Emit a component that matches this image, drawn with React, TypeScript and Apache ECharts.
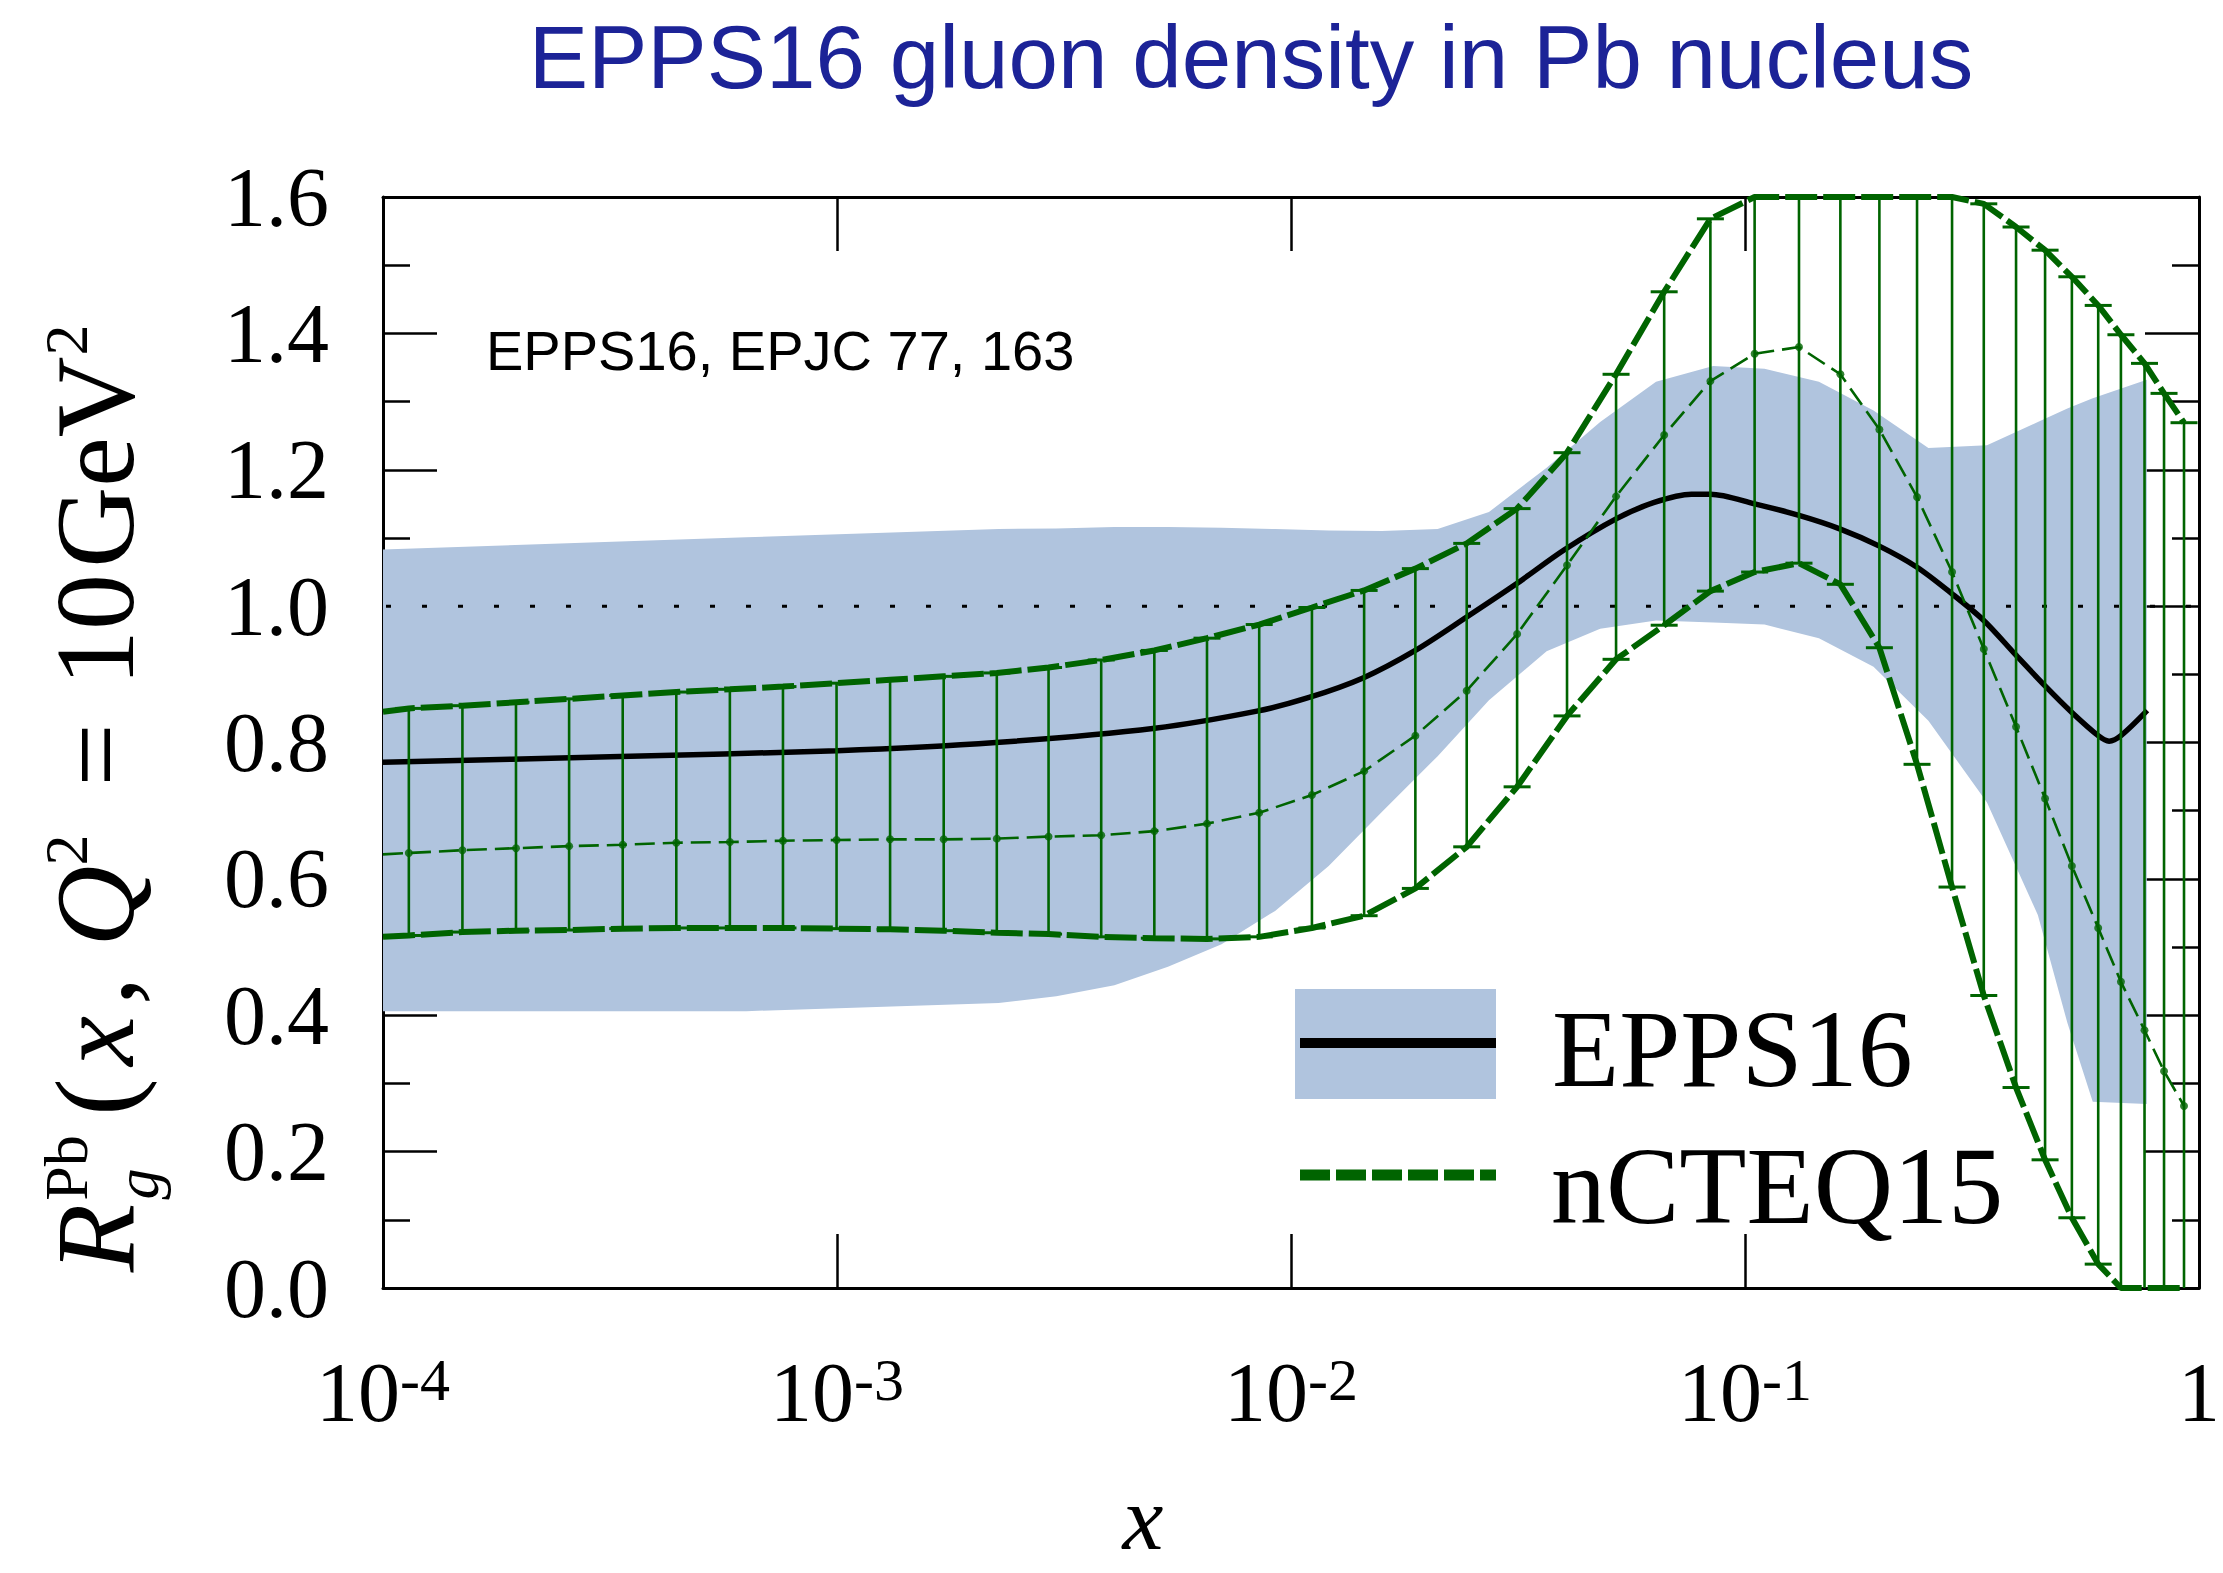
import React, { useEffect, useRef } from 'react';
import * as echarts from 'echarts';

const W = 2223;
const H = 1573;
const GREEN = '#006400';
const BAND = '#b0c4de';
const SERIF = 'Liberation Serif, Times New Roman, serif';
const SANS = 'Liberation Sans, Arial, Helvetica, sans-serif';

// Axis ranges / ticks
const X_MIN = 1e-4;
const X_MAX = 1;
const Y_MIN = 0;
const Y_MAX = 1.6;
const Y_STEP = 0.2;

// EPPS16 uncertainty band
const bandX = [1e-4, 6.31e-4, 2.27e-3, 3.041e-3, 4.083e-3, 5.358e-3, 7.031e-3, 9.226e-3, 1.2106e-2, 1.585e-2, 2.104e-2, 2.729e-2, 3.656e-2, 4.797e-2, 6.368e-2, 8.511e-2, 0.1104, 0.1455, 0.1919, 0.2535, 0.3412, 0.4416, 0.5129, 0.5834, 0.7674];
const bandHigh = [1.083, 1.101, 1.113, 1.114, 1.116, 1.116, 1.115, 1.113, 1.111, 1.110, 1.113, 1.138, 1.203, 1.270, 1.329, 1.352, 1.348, 1.329, 1.287, 1.232, 1.236, 1.270, 1.290, 1.305, 1.332];
const bandLow = [0.406, 0.406, 0.418, 0.428, 0.444, 0.471, 0.504, 0.553, 0.619, 0.698, 0.780, 0.862, 0.934, 0.967, 0.979, 0.976, 0.973, 0.953, 0.911, 0.832, 0.712, 0.547, 0.389, 0.273, 0.270];

// EPPS16 central value
const eppsX = [1e-4, 3.162e-4, 1e-3, 2.239e-3, 5.012e-3, 8.414e-3, 1.096e-2, 1.445e-2, 1.879e-2, 2.438e-2, 3.126e-2, 4.009e-2, 5.2e-2, 6.31e-2, 7.621e-2, 8.395e-2, 0.105, 0.1315, 0.1622, 0.1977, 0.2393, 0.2858, 0.3357, 0.3954, 0.4581, 0.5248, 0.5998, 0.6339, 0.673, 0.7691];
const eppsY = [0.771, 0.779, 0.788, 0.800, 0.821, 0.846, 0.866, 0.895, 0.935, 0.984, 1.032, 1.083, 1.128, 1.152, 1.164, 1.164, 1.150, 1.133, 1.113, 1.088, 1.057, 1.018, 0.979, 0.928, 0.883, 0.844, 0.810, 0.802, 0.810, 0.847];

// nCTEQ15 grid points
const nctX = [1.14e-4, 1.496e-4, 1.963e-4, 2.57e-4, 3.373e-4, 4.426e-4, 5.808e-4, 7.603e-4, 9.977e-4, 1.309e-3, 1.718e-3, 2.249e-3, 2.924e-3, 3.819e-3, 5.0e-3, 6.531e-3, 8.511e-3, 1.112e-2, 1.449e-2, 1.879e-2, 2.438e-2, 3.148e-2, 4.055e-2, 5.2e-2, 6.637e-2, 0.0839, 0.105, 0.1315, 0.1622, 0.1977, 0.2393, 0.2858, 0.3357, 0.3954, 0.4581, 0.5248, 0.5998, 0.673, 0.7586, 0.8375, 0.9268];
const nctCentral = [0.638, 0.642, 0.645, 0.648, 0.650, 0.653, 0.654, 0.656, 0.657, 0.658, 0.658, 0.659, 0.662, 0.664, 0.670, 0.681, 0.697, 0.723, 0.758, 0.810, 0.876, 0.959, 1.060, 1.161, 1.251, 1.330, 1.370, 1.380, 1.340, 1.259, 1.160, 1.050, 0.937, 0.823, 0.718, 0.619, 0.528, 0.449, 0.378, 0.318, 0.267];
const nctUpper = [0.850, 0.854, 0.859, 0.864, 0.869, 0.874, 0.878, 0.882, 0.887, 0.892, 0.897, 0.902, 0.910, 0.921, 0.935, 0.953, 0.973, 0.998, 1.023, 1.055, 1.092, 1.143, 1.225, 1.340, 1.461, 1.568, 1.61, 1.66, 1.69, 1.70, 1.68, 1.635, 1.590, 1.556, 1.522, 1.483, 1.441, 1.398, 1.356, 1.312, 1.269];
const nctLower = [0.517, 0.522, 0.524, 0.525, 0.527, 0.528, 0.528, 0.528, 0.527, 0.526, 0.524, 0.521, 0.519, 0.515, 0.513, 0.512, 0.515, 0.528, 0.546, 0.586, 0.647, 0.735, 0.839, 0.922, 0.972, 1.022, 1.050, 1.063, 1.032, 0.939, 0.768, 0.588, 0.429, 0.294, 0.188, 0.103, 0.035, -0.03, -0.09, -0.14, -0.19];
// nCTEQ15 curves where they meet the left frame (x = 1e-4)
const nctEdgeX = 1e-4;
const nctEdgeCentral = 0.636;
const nctEdgeUpper = 0.845;
const nctEdgeLower = 0.515;

const clampY = (v: number) => Math.max(Y_MIN, Math.min(Y_MAX, v));

function buildOption(): any {
  const xLabelRich = {
    b: { fontSize: 84, fontFamily: SERIF, color: '#000', lineHeight: 84, padding: [48, 0, 0, 0], verticalAlign: 'bottom' },
    s: { fontSize: 60, fontFamily: SERIF, color: '#000', lineHeight: 60, verticalAlign: 'top' },
  };
  const xFormatter = (v: number) => {
    const e = Math.round(Math.log10(v));
    return e === 0 ? '{b|1}' : `{b|10}{s|${e}}`;
  };
  const axisLineStyle = { color: '#000', width: 3 };
  const tickStyle = { color: '#000', width: 2.5 };

  const xBase = {
    type: 'log',
    logBase: 10,
    min: X_MIN,
    max: X_MAX,
    splitNumber: 4,
    axisLine: { show: true, onZero: false, lineStyle: axisLineStyle },
    axisTick: { show: true, inside: true, length: 54, lineStyle: tickStyle },
    minorTick: { show: false },
    splitLine: { show: false },
    minorSplitLine: { show: false },
  };
  const yBase = {
    type: 'value',
    min: Y_MIN,
    max: Y_MAX,
    interval: Y_STEP,
    axisLine: { show: true, onZero: false, lineStyle: axisLineStyle },
    axisTick: { show: true, inside: true, length: 54, lineStyle: tickStyle },
    minorTick: { show: true, splitNumber: 2, length: 27, lineStyle: tickStyle },
    splitLine: { show: false },
    minorSplitLine: { show: false },
  };

  const bandData = bandX.map((x, i) => [x, bandLow[i], bandHigh[i]]);
  const errData = nctX.map((x, i) => [x, nctLower[i], nctUpper[i]]);

  const mk = (edge: number, arr: number[]) => [[nctEdgeX, clampY(edge)], ...nctX.map((x, i) => [x, clampY(arr[i])])];

  // y-axis title pieces: [text, centerX, centerY, fontSize, italic]
  const yTitle: [string, number, number, number, boolean][] = [
    ['R', 95, 1238, 112, true],
    ['Pb', 66, 1168, 62, false],
    ['g', 137, 1184, 62, true],
    ['(', 95, 1097, 112, false],
    ['x', 95, 1041, 112, true],
    [',', 95, 991, 112, false],
    ['Q', 95, 906, 112, true],
    ['2', 66, 850, 62, false],
    ['=', 95, 755, 112, false],
    ['10', 95, 630, 112, false],
    ['GeV', 95, 462, 112, false],
    ['2', 66, 340, 62, false],
  ];

  return {
    animation: false,
    backgroundColor: '#fff',
    grid: { left: 383, top: 197, right: 21, bottom: 285, containLabel: false },
    xAxis: [
      {
        ...xBase,
        position: 'bottom',
        axisLabel: {
          show: true,
          margin: 62,
          formatter: xFormatter,
          rich: xLabelRich,
          showMinLabel: true,
          showMaxLabel: true,
        },
      },
      { ...xBase, position: 'top', axisLabel: { show: false } },
    ],
    yAxis: [
      {
        ...yBase,
        position: 'left',
        axisLabel: {
          show: true,
          margin: 54,
          fontSize: 84,
          fontFamily: SERIF,
          color: '#000',
          formatter: (v: number) => v.toFixed(1),
        },
      },
      { ...yBase, position: 'right', axisLabel: { show: false } },
    ],
    series: [
      {
        type: 'custom',
        name: 'EPPS16 band',
        z: 1,
        silent: true,
        data: bandData,
        encode: { x: 0, y: 1 },
        renderItem: (params: any, api: any) => {
          if (params.dataIndex !== 0) return { type: 'group', children: [] };
          const pts: number[][] = [];
          for (let i = 0; i < bandX.length; i++) pts.push(api.coord([bandX[i], bandHigh[i]]));
          for (let i = bandX.length - 1; i >= 0; i--) pts.push(api.coord([bandX[i], bandLow[i]]));
          return { type: 'polygon', shape: { points: pts }, style: { fill: BAND, stroke: 'none' } };
        },
      },
      {
        type: 'line',
        name: 'unity',
        z: 2,
        silent: true,
        symbol: 'none',
        data: [[X_MIN, 1], [X_MAX, 1]],
        lineStyle: { color: '#000', width: 3, type: [5, 31], dashOffset: -3 },
      },
      {
        type: 'line',
        name: 'EPPS16',
        z: 3,
        silent: true,
        symbol: 'none',
        smooth: 0.3,
        data: eppsX.map((x, i) => [x, eppsY[i]]),
        lineStyle: { color: '#000', width: 5.5 },
      },
      {
        type: 'custom',
        name: 'nCTEQ15 errors',
        z: 4,
        silent: true,
        data: errData,
        encode: { x: 0, y: 1 },
        renderItem: (params: any, api: any) => {
          const x = api.value(0);
          const lo = api.value(1);
          const hi = api.value(2);
          const p1 = api.coord([x, clampY(lo)]);
          const p2 = api.coord([x, clampY(hi)]);
          const children: any[] = [
            { type: 'line', shape: { x1: p1[0], y1: p1[1], x2: p2[0], y2: p2[1] }, style: { stroke: GREEN, lineWidth: 2.6 } },
          ];
          const cap = 13.5;
          if (lo >= Y_MIN) children.push({ type: 'line', shape: { x1: p1[0] - cap, y1: p1[1], x2: p1[0] + cap, y2: p1[1] }, style: { stroke: GREEN, lineWidth: 3 } });
          if (hi <= Y_MAX) children.push({ type: 'line', shape: { x1: p2[0] - cap, y1: p2[1], x2: p2[0] + cap, y2: p2[1] }, style: { stroke: GREEN, lineWidth: 3 } });
          return { type: 'group', children };
        },
      },
      {
        type: 'line',
        name: 'nCTEQ15 central',
        z: 5,
        silent: true,
        symbol: 'none',
        data: mk(nctEdgeCentral, nctCentral),
        lineStyle: { color: GREEN, width: 2.6, type: [20, 8] },
      },
      {
        type: 'scatter',
        name: 'nCTEQ15 points',
        z: 6,
        silent: true,
        symbol: 'circle',
        symbolSize: 8,
        itemStyle: { color: GREEN },
        data: nctX.map((x, i) => [x, nctCentral[i]]),
      },
      {
        type: 'line',
        name: 'nCTEQ15 upper',
        z: 5,
        silent: true,
        symbol: 'none',
        data: mk(nctEdgeUpper, nctUpper),
        lineStyle: { color: GREEN, width: 6, type: [32, 6] },
      },
      {
        type: 'line',
        name: 'nCTEQ15 lower',
        z: 5,
        silent: true,
        symbol: 'none',
        data: mk(nctEdgeLower, nctLower),
        lineStyle: { color: GREEN, width: 6, type: [32, 6] },
      },
    ],
    graphic: [
      {
        type: 'text',
        x: 1251,
        y: 57,
        z: 10,
        style: { text: 'EPPS16 gluon density in Pb nucleus', fontSize: 89, fontFamily: SANS, fill: '#1c2397', align: 'center', verticalAlign: 'middle', textAlign: 'center', textVerticalAlign: 'middle' },
      },
      {
        type: 'text',
        x: 486,
        y: 350,
        z: 10,
        style: { text: 'EPPS16, EPJC 77, 163', fontSize: 56, fontFamily: SANS, fill: '#000', align: 'left', verticalAlign: 'middle', textAlign: 'left', textVerticalAlign: 'middle' },
      },
      {
        type: 'text',
        x: 1143,
        y: 1518,
        z: 10,
        style: { text: 'x', fontSize: 92, fontStyle: 'italic', fontFamily: SERIF, fill: '#000', align: 'center', verticalAlign: 'middle', textAlign: 'center', textVerticalAlign: 'middle' },
      },
      {
        type: 'group',
        x: 0,
        y: 0,
        rotation: Math.PI / 2,
        z: 10,
        children: yTitle.map(([t, cx, cy, fs, it]) => ({
          type: 'text',
          x: -cy,
          y: cx,
          style: { text: t, fontSize: fs, fontStyle: it ? 'italic' : 'normal', fontFamily: SERIF, fill: '#000', align: 'center', verticalAlign: 'middle', textAlign: 'center', textVerticalAlign: 'middle' },
        })),
      },
      // legend
      { type: 'rect', z: 10, shape: { x: 1295, y: 989, width: 201, height: 110 }, style: { fill: BAND } },
      { type: 'line', z: 11, shape: { x1: 1300, y1: 1043, x2: 1496, y2: 1043 }, style: { stroke: '#000', lineWidth: 10 } },
      { type: 'line', z: 11, shape: { x1: 1300, y1: 1175, x2: 1496, y2: 1175 }, style: { stroke: GREEN, lineWidth: 11, lineDash: [30, 6] } },
      {
        type: 'text', x: 1552, y: 1049, z: 11,
        style: { text: 'EPPS16', fontSize: 110, fontFamily: SERIF, fill: '#000', align: 'left', verticalAlign: 'middle', textAlign: 'left', textVerticalAlign: 'middle' },
      },
      {
        type: 'text', x: 1551, y: 1186, z: 11,
        style: { text: 'nCTEQ15', fontSize: 110, fontFamily: SERIF, fill: '#000', align: 'left', verticalAlign: 'middle', textAlign: 'left', textVerticalAlign: 'middle' },
      },
    ],
  };
}

export default function App() {
  const ref = useRef<HTMLDivElement>(null);
  useEffect(() => {
    if (!ref.current) return;
    const chart = echarts.init(ref.current, null, { renderer: 'svg' });
    chart.setOption(buildOption());
    return () => chart.dispose();
  }, []);
  return (
    <div
      ref={ref}
      style={{ position: 'fixed', left: 0, top: 0, width: W, height: H, background: '#fff' }}
    />
  );
}
